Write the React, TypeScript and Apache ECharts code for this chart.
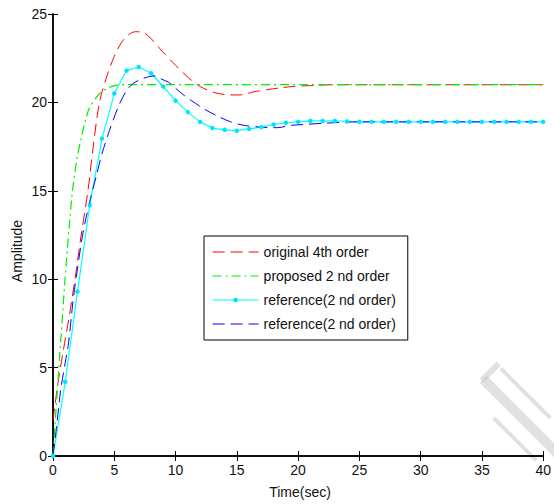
import React, { useEffect, useRef } from "react";
import * as echarts from "echarts";

const xTicks = [0, 5, 10, 15, 20, 25, 30, 35, 40];
const yTicks = [0, 5, 10, 15, 20, 25];

const seriesNames = [
  "original 4th order",
  "proposed 2 nd order",
  "reference(2 nd order)",
  "reference(2 nd order) ",
];

const redT = [0, 0.4, 0.8, 1.3, 1.77, 2.3, 2.85, 3.3, 3.79, 4.4, 5, 5.6, 6.2, 6.75, 7.3, 7.8, 8.9, 10, 11.05, 12, 13.2, 14, 15, 15.6, 16.4, 17.5, 18.5, 19.6, 21, 23, 40];
const redY = [2.0, 4.1, 5.8, 7.8, 9.9, 12.5, 15, 17.6, 20, 21.5, 22.6, 23.4, 23.85, 24.0, 23.95, 23.75, 22.9, 22.1, 21.4, 20.9, 20.55, 20.45, 20.42, 20.45, 20.6, 20.72, 20.82, 20.9, 20.95, 21, 21];

const greenT = [0, 0.35, 0.62, 0.97, 1.3, 1.59, 1.95, 2.31, 2.65, 2.98, 3.8, 4.6, 5.5, 40];
const greenY = [0, 3.7, 6.4, 9.9, 12.8, 15, 16.8, 18, 19, 19.7, 20.5, 20.85, 21, 21];

const cyanT = [0, 1, 2, 3, 4, 5, 6, 7, 8, 9, 10, 11, 12, 13, 14, 15, 16, 17, 18, 19, 20, 21, 22, 23, 24, 25, 26, 27, 28, 29, 30, 31, 32, 33, 34, 35, 36, 37, 38, 39, 40];
const cyanY = [0, 4.2, 9.3, 14.2, 17.95, 20.5, 21.8, 22.0, 21.65, 20.9, 20.1, 19.45, 18.9, 18.55, 18.45, 18.4, 18.5, 18.6, 18.75, 18.85, 18.9, 18.95, 18.95, 18.95, 18.92, 18.9, 18.9, 18.9, 18.9, 18.9, 18.9, 18.9, 18.9, 18.9, 18.9, 18.9, 18.9, 18.9, 18.9, 18.9, 18.9];

const blueT = [0, 0.3, 0.62, 1.0, 1.27, 1.64, 2.0, 2.44, 3.0, 3.52, 4.0, 4.6, 5.3, 5.94, 6.5, 7.15, 7.8, 8.36, 8.9, 9.4, 10, 10.6, 11.3, 12.4, 13.5, 14.5, 15.6, 17, 18.3, 19.4, 20.5, 22.3, 25, 40];
const blueY = [0, 1.7, 3.7, 5.3, 6.4, 8.8, 10.6, 12.6, 14.4, 15.8, 17.1, 18.4, 19.7, 20.6, 21.05, 21.3, 21.45, 21.5, 21.3, 21.15, 20.8, 20.45, 20.1, 19.6, 19.2, 18.9, 18.7, 18.6, 18.57, 18.7, 18.75, 18.83, 18.9, 18.9];

const zip = (t: number[], y: number[]) => t.map((v, i) => [v, y[i]]);

const FONT = "Liberation Sans, Arial, sans-serif";
const WM = "rgba(200,200,200,0.55)";

export default function App() {
  const ref = useRef<HTMLDivElement>(null);
  useEffect(() => {
    if (!ref.current) return;
    const chart = echarts.init(ref.current, undefined, { renderer: "svg" });
    const axisCommon = {
      type: "value" as const,
      axisLine: { show: true, lineStyle: { color: "#000", width: 1.5 } },
      axisTick: { show: true, inside: true, length: 5, lineStyle: { color: "#000" } },
      splitLine: { show: false },
    };
    chart.setOption({
      animation: false,
      backgroundColor: "#fff",
      grid: { left: 53, right: 5, top: 14, bottom: 48, show: false },
      legend: {
        orient: "vertical",
        left: 204,
        top: 236,
        itemWidth: 46,
        itemHeight: 6,
        itemGap: 8,
        padding: [8, 8, 8, 8],
        borderColor: "#000",
        borderWidth: 1,
        backgroundColor: "#fff",
        lineStyle: { width: 1.2 },
        textStyle: { fontFamily: FONT, fontSize: 14, color: "#111", lineHeight: 16 },
        data: [
          { name: seriesNames[0], itemStyle: { opacity: 0 } },
          { name: seriesNames[1], itemStyle: { opacity: 0 } },
          { name: seriesNames[2] },
          { name: seriesNames[3], itemStyle: { opacity: 0 } },
        ],
      },
      xAxis: [
        {
          ...axisCommon,
          min: 0,
          max: 40,
          interval: 5,
          position: "bottom",
          axisLabel: {
            fontFamily: FONT,
            fontSize: 14,
            color: "#111",
            margin: 7,
            formatter: (v: number) => (xTicks.includes(v) ? String(v) : ""),
          },
        },
        {
          ...axisCommon,
          min: 0,
          max: 40,
          interval: 5,
          position: "top",
          axisLabel: { show: false },
        },
      ],
      yAxis: [
        {
          ...axisCommon,
          min: 0,
          max: 25,
          interval: 5,
          position: "left",
          axisLabel: {
            fontFamily: FONT,
            fontSize: 14,
            color: "#111",
            margin: 6,
            formatter: (v: number) => (yTicks.includes(v) ? String(v) : ""),
          },
        },
        {
          ...axisCommon,
          min: 0,
          max: 25,
          interval: 5,
          position: "right",
          axisLabel: { show: false },
        },
      ],
      graphic: [
        {
          type: "group",
          x: 522,
          y: 418,
          rotation: -Math.PI / 4,
          z: -1,
          children: [
            { type: "rect", shape: { x: -55, y: -5, width: 110, height: 10 }, style: { fill: WM } },
            { type: "rect", shape: { x: -50, y: -22, width: 70, height: 4 }, style: { fill: WM } },
            { type: "rect", shape: { x: -58, y: -22, width: 6, height: 24 }, style: { fill: WM } },
            { type: "rect", shape: { x: -20, y: 18, width: 60, height: 4 }, style: { fill: WM } },
          ],
        },
        {
          type: "text",
          x: 300,
          y: 492,
          style: {
            text: "Time(sec)",
            fontFamily: FONT,
            fontSize: 14,
            fill: "#111",
            textAlign: "center",
            textVerticalAlign: "middle",
          },
        },
        {
          type: "text",
          x: 17,
          y: 251,
          rotation: Math.PI / 2,
          style: {
            text: "Amplitude",
            fontFamily: FONT,
            fontSize: 14,
            fill: "#111",
            textAlign: "center",
            textVerticalAlign: "middle",
          },
        },
      ],
      series: [
        {
          name: seriesNames[0],
          type: "line",
          data: zip(redT, redY),
          symbol: "none",
          smooth: 0.3,
          lineStyle: { color: "#ff0000", width: 1, type: [12, 6] },
          itemStyle: { color: "#ff0000" },
        },
        {
          name: seriesNames[1],
          type: "line",
          data: zip(greenT, greenY),
          symbol: "none",
          smooth: 0.3,
          lineStyle: { color: "#00ee00", width: 1.2, type: [9, 4, 2, 4] },
          itemStyle: { color: "#00ee00" },
        },
        {
          name: seriesNames[2],
          type: "line",
          data: zip(cyanT, cyanY),
          symbol: "circle",
          symbolSize: 4.5,
          showSymbol: true,
          lineStyle: { color: "#00ffff", width: 1.2 },
          itemStyle: { color: "#00e5ff" },
        },
        {
          name: seriesNames[3],
          type: "line",
          data: zip(blueT, blueY),
          symbol: "none",
          smooth: 0.3,
          lineStyle: { color: "#0000ff", width: 1, type: [12, 6] },
          itemStyle: { color: "#0000ff" },
        },
      ],
    });
    return () => chart.dispose();
  }, []);
  return (
    <div
      ref={ref}
      style={{ position: "fixed", left: 0, top: 0, width: 554, height: 504 }}
    />
  );
}
